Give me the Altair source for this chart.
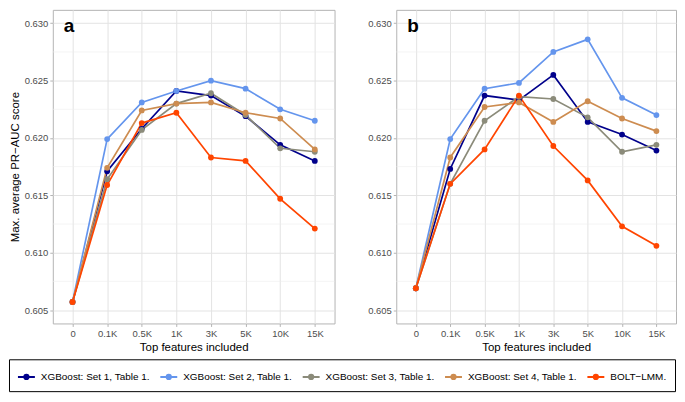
import altair as alt
import pandas as pd

x_labels = ["0", "0.1K", "0.5K", "1K", "3K", "5K", "10K", "15K"]
series_names = [
    "XGBoost: Set 1, Table 1.",
    "XGBoost: Set 2, Table 1.",
    "XGBoost: Set 3, Table 1.",
    "XGBoost: Set 4, Table 1.",
    "BOLT\u2212LMM.",
]
colors = ["#00008B", "#6495ED", "#8B8B7A", "#CD8C50", "#FF4500"]

# Panel a
a_set1 = [0.6057, 0.6171, 0.6208, 0.6241, 0.6237, 0.6219, 0.6194, 0.6180]
a_set2 = [0.6057, 0.6199, 0.6231, 0.6241, 0.6250, 0.6243, 0.6225, 0.6215]
a_set3 = [0.6057, 0.6164, 0.6207, 0.6230, 0.6239, 0.6220, 0.6191, 0.6188]
a_set4 = [0.6057, 0.6174, 0.6224, 0.6230, 0.6231, 0.6222, 0.6217, 0.6190]
a_bolt = [0.6057, 0.6159, 0.6213, 0.6222, 0.6183, 0.6180, 0.6147, 0.6121]

# Panel b
b_set1 = [0.6069, 0.6173, 0.6237, 0.6233, 0.6255, 0.6214, 0.6203, 0.6189]
b_set2 = [0.6069, 0.6199, 0.6243, 0.6248, 0.6275, 0.6286, 0.6235, 0.6220]
b_set3 = [0.6069, 0.6160, 0.6215, 0.6236, 0.6234, 0.6218, 0.6188, 0.6194]
b_set4 = [0.6069, 0.6183, 0.6227, 0.6231, 0.6214, 0.6232, 0.6217, 0.6206]
b_bolt = [0.6069, 0.6160, 0.6190, 0.6237, 0.6193, 0.6163, 0.6123, 0.6106]

major_ticks = [0.605, 0.610, 0.615, 0.620, 0.625, 0.630]
minor_ticks = [0.6075, 0.6125, 0.6175, 0.6225, 0.6275]
y_domain = [0.60383, 0.63117]

y_title = "Max. average PR\u2212AUC score"
x_title = "Top features included"


def make_df(series_lists):
    rows = []
    for name, vals in zip(series_names, series_lists):
        for i, (xl, v) in enumerate(zip(x_labels, vals)):
            rows.append({"x": xl, "idx": i, "series": name, "y": v})
    return pd.DataFrame(rows)


df_a = make_df([a_set1, a_set2, a_set3, a_set4, a_bolt])
df_b = make_df([b_set1, b_set2, b_set3, b_set4, b_bolt])

legend_symbol = "M-1,0H1M-0.25,0A0.25,0.25,0,1,1,0.25,0A0.25,0.25,0,1,1,-0.25,0Z"

PLOT_H = 315


def panel(df, letter, show_ytitle, width):
    yscale = alt.Scale(domain=y_domain, nice=False, zero=False)
    yaxis = alt.Axis(
        values=major_ticks,
        format=".3f",
        title=y_title if show_ytitle else None,
        grid=True,
    )
    xenc = alt.X(
        "x:N",
        sort=x_labels,
        scale=alt.Scale(type="point", padding=0.57),
        axis=alt.Axis(title=x_title, labelAngle=0, grid=True),
    )
    yenc = alt.Y("y:Q", scale=yscale, axis=yaxis)
    cenc = alt.Color(
        "series:N",
        sort=series_names,
        scale=alt.Scale(domain=series_names, range=colors),
        legend=alt.Legend(title=None, orient="none", legendX=-44,
                          legendY=PLOT_H + 36),
    )
    minor = (
        alt.Chart(pd.DataFrame({"m": minor_ticks}))
        .mark_rule(color="#EDEDED", strokeWidth=0.6)
        .encode(y=alt.Y("m:Q", scale=yscale, axis=yaxis))
    )
    base = alt.Chart(df)
    lines = base.mark_line(strokeWidth=1.7).encode(
        x=xenc, y=yenc, color=cenc, order="idx:Q"
    )
    points = base.mark_point(filled=True, size=34, opacity=1).encode(
        x=xenc, y=yenc, color=cenc
    )
    label = (
        alt.Chart(pd.DataFrame({"t": [letter]}))
        .mark_text(fontSize=19, fontWeight="bold", align="left",
                   baseline="alphabetic", color="black")
        .encode(text="t:N", x=alt.value(11), y=alt.value(22))
    )
    return alt.layer(minor, lines, points, label).properties(width=width, height=PLOT_H)


pa = panel(df_a, "a", True, 283)
pb = panel(df_b, "b", False, 281)

chart = (
    alt.hconcat(pa, pb, spacing=31)
    .properties(padding=0)
    .configure(font="Liberation Sans")
    .configure_view(stroke="#B3B3B3", strokeWidth=1)
    .configure_axis(
        domain=False,
        gridColor="#E3E3E3",
        gridWidth=1,
        tickColor="#B3B3B3",
        tickSize=3,
        labelColor="#4D4D4D",
        labelFontSize=9.5,
        labelPadding=2,
        titleFontSize=11.5,
        titleColor="black",
        titleFontWeight="normal",
        titlePadding=4,
    )
    .configure_legend(
        direction="horizontal",
        strokeColor="black",
        strokeWidth=1,
        padding=8,
        labelFontSize=10,
        labelColor="black",
        symbolType=legend_symbol,
        symbolSize=289,
        symbolStrokeWidth=2,
        columnPadding=6,
        labelOffset=5,
    )
)

chart.save("out.html", embed_options={"renderer": "svg", "actions": False})
